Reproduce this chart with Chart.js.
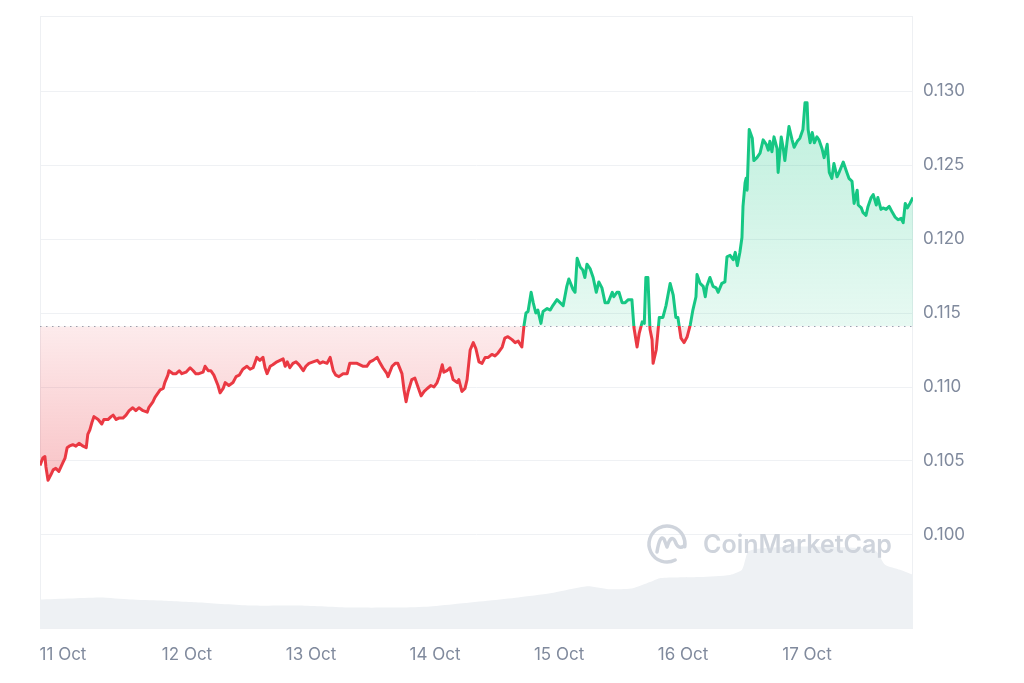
<!DOCTYPE html>
<html>
<head>
<meta charset="utf-8">
<script src="https://cdn.jsdelivr.net/npm/chart.js@4.4.0/dist/chart.umd.min.js"></script>
<style>
  html, body { margin: 0; padding: 0; background: #fff; }
  #wrap { width: 1024px; height: 683px; }
</style>
</head>
<body>
<div id="wrap"><canvas id="priceChart" width="1024" height="683"></canvas></div>
<script>
// hours since 11 Oct 00:00
var priceHours = [
  -4.45, -3.9, -3.5, -3.3, -2.9, -2.3, -1.9, -1.4, -0.8, -0.4,
  0, 0.4, 0.8, 1.2, 1.9, 2.5, 3.1, 3.9, 4.5, 4.8,
  5.2, 5.6, 6.0, 6.8, 7.5, 7.9, 8.7, 9.3, 9.7, 10.3,
  10.8, 11.6, 12.2, 12.8, 13.5, 14.1, 14.7, 15.5, 16.3, 16.6,
  17.4, 17.8, 18.4, 18.8, 19.4, 19.7, 20.3, 20.5, 21.3, 21.9,
  22.5, 23.0, 23.8, 24.6, 25.2, 25.7, 26.3, 27.1, 27.5, 28.1,
  28.6, 29.2, 30.0, 30.4, 31.0, 31.4, 32.1, 32.9, 33.5, 34.1,
  34.8, 35.6, 36.2, 36.8, 37.5, 38.1, 38.7, 39.1, 39.5, 40.1,
  40.6, 41.4, 42.0, 42.6, 43.0, 43.4, 43.9, 44.5, 45.1, 45.7,
  46.5, 47.0, 47.6, 48.4, 49.2, 49.7, 50.3, 51.1, 51.7, 52.3,
  52.8, 53.4, 54.2, 55.0, 55.5, 56.1, 56.9, 57.5, 58.1, 58.8,
  59.4, 60.0, 60.8, 61.4, 61.9, 62.7, 62.9, 63.7, 64.3, 64.8,
  65.6, 66.0, 66.4, 66.8, 67.5, 68.1, 68.7, 69.3, 69.9, 70.5,
  71.2, 71.8, 72.4, 72.8, 73.4, 73.7, 74.3, 74.9, 75.5, 76.3,
  76.6, 77.2, 77.8, 78.2, 78.8, 79.4, 79.9, 80.5, 81.1, 81.7,
  82.3, 83.0, 83.6, 84.2, 85.0, 85.5, 86.1, 86.9, 87.5, 88.1,
  88.8, 89.2, 89.6, 90.0, 90.6, 91.0, 91.5, 91.9, 92.5, 92.9,
  93.7, 94.3, 94.8, 95.6, 96.2, 96.8, 97.5, 97.9, 98.7, 99.1,
  99.5, 100.1, 100.6, 101.0, 101.4, 102.0, 102.6, 103.2, 103.7, 104.3,
  104.9, 105.5, 106.3, 106.6, 107.2, 107.6, 108.2, 108.8, 109.4, 110.1,
  110.5, 111.1, 111.5, 112.1, 112.5, 112.8, 113.2, 113.6, 114.0, 114.2,
  114.8, 115.4, 116.1, 116.7, 117.5, 118.1, 118.6, 119.0, 119.6, 120.2,
  120.8, 121.4, 121.9, 122.5, 122.7, 123.3, 123.9, 124.3, 124.6, 125.2,
  125.8, 126.4, 126.8, 127.5, 128.1, 128.5, 129.1, 129.7, 130.1, 130.5,
  131.0, 131.4, 131.6, 132.0, 132.2, 132.4, 132.8, 133.4, 133.7, 134.3,
  134.9, 135.5, 136.1, 136.5, 136.8, 137.2, 137.6, 138.2, 138.4, 139.0,
  139.4, 139.7, 140.1, 140.5, 141.1, 141.5, 142.1, 142.6, 143.2, 143.6,
  144.0, 144.2, 144.6, 145.0, 145.4, 145.9, 146.3, 146.9, 147.3, 147.9,
  148.3, 148.8, 149.2, 149.8, 150.2, 151.0, 151.7, 152.1, 152.7, 153.1,
  153.7, 153.9, 154.5, 154.8, 155.4, 155.8, 156.4, 156.8, 157.4, 157.7,
  158.3, 158.7, 159.3, 159.9, 160.5, 161.0, 161.6, 162.2, 162.6, 163.0,
  163.4, 163.9, 164.5
];
var priceValues = [
  0.1047, 0.1052, 0.1053, 0.1046, 0.1037, 0.1041, 0.1044, 0.1045, 0.1043, 0.1046,
  0.1049, 0.1052, 0.1059, 0.1060, 0.1061, 0.1060, 0.1062, 0.1060, 0.1059, 0.1068,
  0.1071, 0.1076, 0.1080, 0.1078, 0.1075, 0.1078, 0.1078, 0.1080, 0.1081, 0.1078,
  0.1079, 0.1079, 0.1081, 0.1084, 0.1086, 0.1084, 0.1086, 0.1084, 0.1083, 0.1086,
  0.1090, 0.1093, 0.1096, 0.1098, 0.1099, 0.1103, 0.1108, 0.1111, 0.1109, 0.1109,
  0.1111, 0.1109, 0.1110, 0.1113, 0.1111, 0.1109, 0.1109, 0.1110, 0.1114, 0.1111,
  0.1111, 0.1108, 0.1101, 0.1096, 0.1099, 0.1103, 0.1101, 0.1103, 0.1107, 0.1108,
  0.1112, 0.1114, 0.1112, 0.1113, 0.1120, 0.1118, 0.1120, 0.1113, 0.1109, 0.1114,
  0.1115, 0.1117, 0.1118, 0.1119, 0.1114, 0.1117, 0.1113, 0.1116, 0.1117, 0.1115,
  0.1111, 0.1114, 0.1116, 0.1117, 0.1118, 0.1116, 0.1117, 0.1116, 0.1120, 0.1111,
  0.1108, 0.1107, 0.1109, 0.1109, 0.1116, 0.1116, 0.1116, 0.1115, 0.1114, 0.1114,
  0.1117, 0.1118, 0.1120, 0.1116, 0.1113, 0.1109, 0.1107, 0.1114, 0.1116, 0.1116,
  0.1109, 0.1098, 0.1090, 0.1097, 0.1105, 0.1106, 0.1100, 0.1094, 0.1097, 0.1099,
  0.1101, 0.1100, 0.1103, 0.1107, 0.1115, 0.1110, 0.1111, 0.1113, 0.1105, 0.1103,
  0.1105, 0.1097, 0.1099, 0.1105, 0.1125, 0.1130, 0.1126, 0.1117, 0.1116, 0.1120,
  0.1120, 0.1122, 0.1121, 0.1123, 0.1127, 0.1133, 0.1134, 0.1132, 0.1130, 0.1131,
  0.1127, 0.1141, 0.1150, 0.1151, 0.1164, 0.1157, 0.1150, 0.1152, 0.1143, 0.1151,
  0.1153, 0.1152, 0.1155, 0.1159, 0.1157, 0.1155, 0.1168, 0.1173, 0.1166, 0.1164,
  0.1187, 0.1181, 0.1179, 0.1174, 0.1183, 0.1180, 0.1174, 0.1164, 0.1171, 0.1167,
  0.1157, 0.1157, 0.1164, 0.1161, 0.1164, 0.1164, 0.1157, 0.1157, 0.1159, 0.1159,
  0.1140, 0.1127, 0.1136, 0.1144, 0.1143, 0.1174, 0.1174, 0.1139, 0.1132, 0.1116,
  0.1125, 0.1147, 0.1147, 0.1155, 0.1170, 0.1162, 0.1147, 0.1147, 0.1133, 0.1130,
  0.1134, 0.1142, 0.1152, 0.1161, 0.1176, 0.1170, 0.1168, 0.1161, 0.1168, 0.1174,
  0.1168, 0.1167, 0.1164, 0.1170, 0.1171, 0.1188, 0.1189, 0.1186, 0.1191, 0.1182,
  0.1191, 0.1201, 0.1222, 0.1238, 0.1241, 0.1233, 0.1274, 0.1268, 0.1253, 0.1255,
  0.1258, 0.1267, 0.1264, 0.1260, 0.1266, 0.1259, 0.1269, 0.1261, 0.1245, 0.1269,
  0.1261, 0.1253, 0.1265, 0.1276, 0.1267, 0.1262, 0.1266, 0.1268, 0.1274, 0.1292,
  0.1292, 0.1274, 0.1265, 0.1272, 0.1265, 0.1269, 0.1267, 0.1261, 0.1255, 0.1264,
  0.1245, 0.1241, 0.1251, 0.1242, 0.1245, 0.1252, 0.1245, 0.1241, 0.1239, 0.1224,
  0.1233, 0.1223, 0.1221, 0.1218, 0.1216, 0.1222, 0.1228, 0.1230, 0.1223, 0.1228,
  0.1220, 0.1221, 0.1220, 0.1222, 0.1218, 0.1215, 0.1213, 0.1214, 0.1211, 0.1224,
  0.1221, 0.1224, 0.1228
];
var volumeHours = [-4.45, 1.4, 7.2, 13.0, 18.8, 26.5, 36.2, 45.9, 55.5, 65.2,
  71.0, 76.8, 82.6, 88.1, 94.3, 101.4, 105.9, 110.3, 113.6, 115.7,
  123.3, 129.1, 131.4, 132.6, 134.9, 142.6, 152.3, 157.2, 159.1, 162.0, 164.5];
var volumeValues = [28, 29, 30, 28, 27, 25, 22, 22, 20, 20,
  21, 24, 27, 30, 34, 41, 38, 39, 45, 49,
  50, 52, 57, 75, 78, 80, 79, 76, 62, 57, 52];

var dayTicks = [0, 24, 48, 72, 96, 120, 144];
var dayLabels = ['11 Oct', '12 Oct', '13 Oct', '14 Oct', '15 Oct', '16 Oct', '17 Oct'];
var priceTicks = [0.100, 0.105, 0.110, 0.115, 0.120, 0.125, 0.130];
var baselinePrice = 0.1141;

var green = '#16c784';
var red = '#ea3943';
var labelColor = '#808a9d';

Chart.defaults.font.family = 'Inter';

var ctx = document.getElementById('priceChart').getContext('2d');

// frame, dotted baseline and the watermark
var decor = {
  id: 'decor',
  beforeDatasetsDraw: function(chart) {
    var c = chart.ctx, a = chart.chartArea;
    var y = Math.round(chart.scales.y.getPixelForValue(baselinePrice)) + 0.5;
    c.save();
    c.strokeStyle = '#eef0f3';
    c.lineWidth = 1;
    c.strokeRect(a.left + 0.5, a.top + 0.5, a.right - a.left - 1, a.bottom - a.top);
    c.strokeStyle = '#9aa3b3';
    c.setLineDash([1.5, 4.5]);
    c.beginPath();
    c.moveTo(a.left, y);
    c.lineTo(a.right, y);
    c.stroke();
    c.restore();
  },
  afterDatasetsDraw: function(chart) {
    var c = chart.ctx;
    var cx = 667, cy = 544;
    c.save();
    c.strokeStyle = '#cfd4dc';
    c.fillStyle = '#cfd4dc';
    c.lineWidth = 3.5;
    c.lineCap = 'round';
    c.lineJoin = 'round';
    c.beginPath();
    c.arc(cx, cy, 18, 0.35 * Math.PI, 2.05 * Math.PI);
    c.stroke();
    c.beginPath();
    c.moveTo(cx - 10, cy + 8);
    c.quadraticCurveTo(cx - 7, cy - 10, cx - 3, cy - 5);
    c.lineTo(cx, cy + 3);
    c.quadraticCurveTo(cx + 4, cy - 10, cx + 8, cy - 3);
    c.quadraticCurveTo(cx + 11, cy + 6, cx + 17, cy + 2);
    c.stroke();
    c.font = '600 25px Inter';
    c.textBaseline = 'alphabetic';
    c.fillText('CoinMarketCap', 703, 553);
    c.restore();
  }
};

var chart = new Chart(ctx, {
  type: 'line',
  data: {
    datasets: [{
      label: 'Price',
      data: priceHours.map(function(h, i) { return { x: h, y: priceValues[i] }; }),
      yAxisID: 'y',
      borderColor: green,
      borderWidth: 3,
      borderJoinStyle: 'round',
      pointRadius: 0,
      tension: 0,
      fill: { target: { value: baselinePrice }, above: 'rgba(22,199,132,0.2)', below: 'rgba(234,57,67,0.2)' },
      order: 0
    }, {
      label: 'Volume',
      data: volumeHours.map(function(h, i) { return { x: h, y: volumeValues[i] }; }),
      yAxisID: 'yVol',
      borderWidth: 0,
      backgroundColor: '#eef1f4',
      fill: 'origin',
      pointRadius: 0,
      tension: 0.2,
      order: 1
    }]
  },
  options: {
    responsive: false,
    animation: false,
    layout: { padding: { left: 40, top: 16, right: 0, bottom: 0 } },
    plugins: {
      legend: { display: false },
      tooltip: { enabled: false }
    },
    scales: {
      x: {
        type: 'linear',
        min: -4.45,
        max: 164.5,
        grid: { display: false },
        border: { display: false },
        afterBuildTicks: function(scale) {
          scale.ticks = dayTicks.map(function(v) { return { value: v }; });
        },
        afterFit: function(scale) {
          scale.height = 55;
          scale.paddingLeft = 0;
          scale.paddingRight = 0;
        },
        ticks: {
          autoSkip: false,
          maxRotation: 0,
          padding: 9,
          color: labelColor,
          font: { size: 17 },
          callback: function(value, index) { return dayLabels[index]; }
        }
      },
      y: {
        position: 'right',
        min: 0.093716,
        max: 0.135068,
        grid: { color: '#eff1f4', drawTicks: false },
        border: { display: false },
        afterBuildTicks: function(scale) {
          scale.ticks = priceTicks.map(function(v) { return { value: v }; });
        },
        afterFit: function(scale) {
          scale.width = 111;
          scale.paddingTop = 0;
          scale.paddingBottom = 0;
        },
        ticks: {
          padding: 10,
          color: labelColor,
          font: { size: 17 },
          callback: function(value) { return value.toFixed(3); }
        }
      },
      yVol: {
        display: false,
        min: 0,
        max: 600
      }
    }
  },
  plugins: [decor]
});

// gradients need the chart area, so set them after the first layout
var a = chart.chartArea;
var ys = chart.scales.y;
var basePx = ys.getPixelForValue(baselinePrice);
var f = (basePx - a.top) / (a.bottom - a.top);
var stroke = ctx.createLinearGradient(0, a.top, 0, a.bottom);
stroke.addColorStop(0, green);
stroke.addColorStop(f, green);
stroke.addColorStop(f, red);
stroke.addColorStop(1, red);
var topPx = ys.getPixelForValue(Math.max.apply(null, priceValues));
var lowPx = ys.getPixelForValue(Math.min.apply(null, priceValues));
var up = ctx.createLinearGradient(0, topPx, 0, basePx);
up.addColorStop(0, 'rgba(22,199,132,0.28)');
up.addColorStop(1, 'rgba(22,199,132,0.1)');
var down = ctx.createLinearGradient(0, basePx, 0, lowPx);
down.addColorStop(0, 'rgba(234,57,67,0.1)');
down.addColorStop(1, 'rgba(234,57,67,0.3)');
var ds = chart.data.datasets[0];
ds.borderColor = stroke;
ds.fill.above = up;
ds.fill.below = down;
chart.update('none');
</script>
</body>
</html>
